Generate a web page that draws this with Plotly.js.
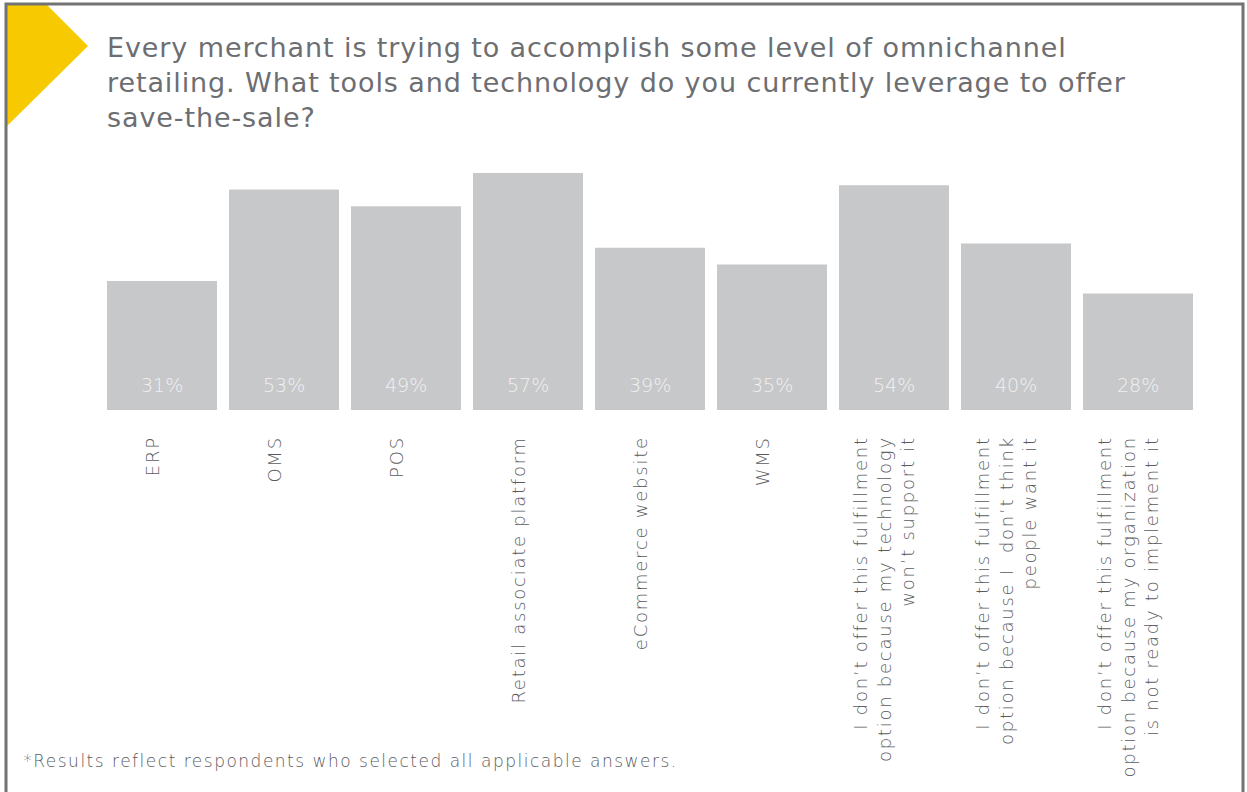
<!DOCTYPE html>
<html>
<head>
<meta charset="utf-8">
<script src="https://cdn.plot.ly/plotly-3.0.1.min.js"></script>
<style>
html,body{margin:0;padding:0;background:#fff;}
#chart{width:1247px;height:792px;}
#chart .gtitle{letter-spacing:0.9px;}
#chart .xtick text{letter-spacing:1.75px;}
#chart .annotation[data-index="0"] text{letter-spacing:1.5px;}
</style>
</head>
<body>
<div id="chart"></div>
<script>
const categories = [
  "ERP",
  "OMS",
  "POS",
  "Retail associate platform",
  "eCommerce website",
  "WMS",
  "I don’t offer this fulfillment<br>option because my technology<br>won’t support it",
  "I don’t offer this fulfillment<br>option because I  don’t think<br>people want it",
  "I don’t offer this fulfillment<br>option because my organization<br>is not ready to implement it"
];
const values = [31, 53, 49, 57, 39, 35, 54, 40, 28];
const valueLabels = ["31%", "53%", "49%", "57%", "39%", "35%", "54%", "40%", "28%"];
const titleText = "Every merchant is trying to accomplish some level of omnichannel<br>retailing. What tools and technology do you currently leverage to offer<br>save-the-sale?";
const footnote = "*Results reflect respondents who selected all applicable answers.";

const W = 1247, H = 792;
const M = {l: 101, r: 48, t: 160, b: 382};
const PW = W - M.l - M.r, PH = H - M.t - M.b;
const px = x => (x - M.l) / PW;
const py = y => (H - M.b - y) / PH;

const GRAY = "#6d6e71";
const LIGHTTEXT = "#5a5b5e";
const FONT = "DejaVu Sans, sans-serif";
const xs = categories.map((c, i) => i);

const trace = {
  type: "bar",
  x: xs,
  y: values,
  marker: {color: "#c7c8ca", line: {width: 0}},
  hoverinfo: "none"
};

const annotations = [{
  xref: "paper", yref: "paper", x: px(350), y: py(761),
  xanchor: "center", yanchor: "middle", showarrow: false,
  text: footnote,
  font: {family: FONT, size: 17, color: LIGHTTEXT, weight: 200}
}];
valueLabels.forEach((t, i) => annotations.push({
  x: xs[i], y: 0, xref: "x", yref: "y",
  text: t, showarrow: false, yanchor: "bottom", yshift: 12,
  font: {family: FONT, size: 19, color: "#f1f1f1", weight: 200}
}));

const diamond = [[7,5],[47,5],[88,46],[7,126]];
const dpath = "M " + diamond.map(p => px(p[0]) + "," + py(p[1])).join(" L ") + " Z";

const shapes = [
  {type: "path", xref: "paper", yref: "paper", path: dpath,
   fillcolor: "#f6c900", line: {width: 0}, layer: "below"},
  {type: "path", xref: "paper", yref: "paper",
   path: `M ${px(6)},${py(H+5)} L ${px(6)},${py(4)} L ${px(1243)},${py(4)} L ${px(1243)},${py(H+5)}`,
   line: {color: "#737373", width: 3}}
];

const layout = {
  width: W, height: H,
  margin: M,
  paper_bgcolor: "#ffffff",
  plot_bgcolor: "#ffffff",
  showlegend: false,
  bargap: 12/122,
  title: {
    text: titleText,
    xref: "container", yref: "container",
    x: 107 / W, xanchor: "left",
    y: 1 - 57 / H, yanchor: "top",
    font: {family: FONT, size: 27, color: GRAY}
  },
  xaxis: {
    range: [-0.5, 8.5],
    tickmode: "array",
    tickvals: xs,
    ticktext: categories,
    tickangle: -90,
    ticks: "outside", ticklen: 18, tickcolor: "rgba(0,0,0,0)",
    ticklabelshift: -9,
    showline: false, showgrid: false, zeroline: false,
    tickfont: {family: FONT, size: 18, color: LIGHTTEXT, weight: 200},
    fixedrange: true
  },
  yaxis: {
    range: [0, PH / 4.16],
    showticklabels: false, showgrid: false, zeroline: false, showline: false,
    fixedrange: true
  },
  annotations: annotations,
  shapes: shapes
};

Plotly.newPlot("chart", [trace], layout, {displayModeBar: false, staticPlot: true});
</script>
</body>
</html>
